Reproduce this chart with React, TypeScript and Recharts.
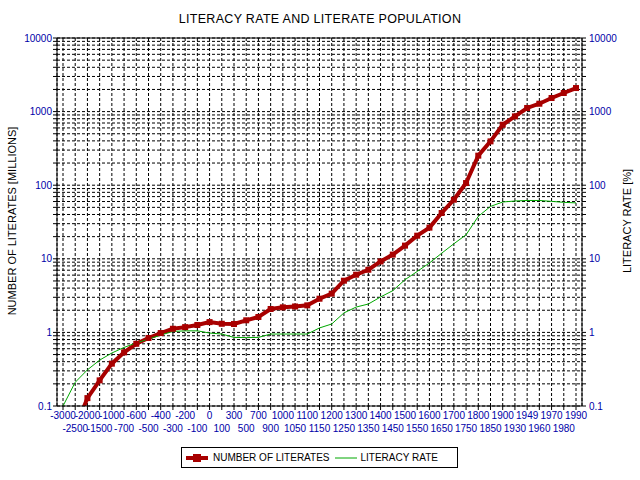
import { LineChart, Line, XAxis, YAxis, CartesianGrid, ReferenceLine } from 'recharts';

// categories (years) as printed on the x axis
const years = [
  '-3000', '-2500', '-2000', '-1500', '-1000', '-700', '-600', '-500', '-400', '-300', '-200', '-100',
  '0', '100', '300', '500', '700', '900', '1000', '1050', '1100', '1150', '1200', '1250', '1300',
  '1350', '1400', '1450', '1500', '1550', '1600', '1650', '1700', '1750', '1800', '1850', '1900',
  '1930', '1949', '1960', '1970', '1980', '1990',
];

// number of literates, millions
const literates = [
  null, 0.05, 0.128, 0.223, 0.376, 0.535, 0.7, 0.84, 0.98, 1.12, 1.18, 1.26,
  1.38, 1.31, 1.3, 1.46, 1.62, 2.08, 2.19, 2.25, 2.33, 2.87, 3.36, 5.04, 6.08,
  7.1, 9.2, 11.4, 15.1, 20.6, 26.5, 41.9, 63.5, 107, 252, 394, 663,
  861, 1120, 1280, 1530, 1790, 2090,
];

// literacy rate, %
const literacyRate = [
  0.1, 0.21, 0.31, 0.42, 0.525, 0.625, 0.72, 0.81, 0.92, 1.03, 1.05, 1.05,
  0.98, 0.95, 0.855, 0.85, 0.855, 0.95, 0.95, 0.95, 0.95, 1.15, 1.3, 1.84, 2.21,
  2.43, 3.03, 3.69, 5.2, 6.73, 8.77, 11.9, 16, 21.2, 37.7, 51.5, 59.1,
  61, 62, 62, 60.3, 58.5, 57.5,
];

// log axis: labelled decades + minor steps
const decades = [0.1, 1, 10, 100, 1000, 10000];
const minorSteps = [1, 2, 3, 4, 5, 6, 7, 8, 9];

const data = years.map((year, i) => ({ year, literates: literates[i], rate: literacyRate[i] }));
const yTicks = decades.slice(0, -1).flatMap((d) => minorSteps.map((s) => d * s)).concat([10000]);

const RED = '#a80000';
const GREEN = '#00a800';
const BLUE = '#0000a8';
const FONT = '"Liberation Sans", Arial, sans-serif';

const fmtY = (v: number) => (decades.includes(v) ? String(v) : '');

// x labels alternate between two rows
function YearTick(props: any) {
  const { x, y, payload } = props;
  const idx = payload.index ?? props.index ?? 0;
  return (
    <text x={x} y={y + (idx % 2 ? 20 : 7)} textAnchor="middle" fill={BLUE} fontSize={10} fontFamily={FONT}>
      {payload.value}
    </text>
  );
}

// square marker for the literates series
function SquareDot(props: any) {
  const { cx, cy, value, index } = props;
  if (cx == null || cy == null || value == null || value < 0.1) return <g key={index} />;
  return <rect key={index} x={cx - 3} y={cy - 3} width={6} height={6} fill={RED} />;
}

export default function App() {
  return (
    <div style={{ position: 'absolute', left: 0, top: 0, width: 640, height: 480, background: '#fff', fontFamily: FONT }}>
      <div style={{ position: 'absolute', top: 12, width: 640, textAlign: 'center', fontSize: 12.5, lineHeight: '15px', color: '#000', letterSpacing: 0.3 }}>
        LITERACY RATE AND LITERATE POPULATION
      </div>
      <LineChart width={640} height={480} data={data} margin={{ top: 38, right: 0, left: 0, bottom: 0 }}>
        <CartesianGrid yAxisId="left" stroke="#000" strokeDasharray="3 2" />
        <XAxis
          dataKey="year"
          interval={0}
          height={74}
          padding={{ left: 6, right: 6 }}
          tick={<YearTick />}
          tickSize={4}
          tickMargin={2}
          stroke="#000"
        />
        <YAxis
          yAxisId="left"
          type="number"
          scale="log"
          domain={[0.1, 10000]}
          allowDataOverflow
          ticks={yTicks}
          interval={0}
          tickFormatter={fmtY}
          width={57}
          tickSize={4}
          tickMargin={1}
          stroke="#000"
          tick={{ fill: BLUE, fontSize: 10, fontFamily: FONT }}
          label={() => (
            <text x={16} y={221} transform="rotate(-90 16 221)" textAnchor="middle" fontSize={11} fontFamily={FONT} fill="#000">
              NUMBER OF LITERATES [MILLIONS]
            </text>
          )}
        />
        <YAxis
          yAxisId="right"
          orientation="right"
          type="number"
          scale="log"
          domain={[0.1, 10000]}
          allowDataOverflow
          ticks={yTicks}
          interval={0}
          tickFormatter={fmtY}
          width={58}
          tickSize={4}
          tickMargin={3}
          stroke="#000"
          tick={{ fill: BLUE, fontSize: 10, fontFamily: FONT }}
          label={() => (
            <text x={631} y={221} transform="rotate(-90 631 221)" textAnchor="middle" fontSize={11} fontFamily={FONT} fill="#000">
              LITERACY RATE [%]
            </text>
          )}
        />
        <ReferenceLine yAxisId="left" y={10000} stroke="#000" strokeWidth={1} />
        <Line
          yAxisId="left"
          dataKey="literates"
          stroke={RED}
          strokeWidth={4}
          dot={SquareDot}
          activeDot={false}
          isAnimationActive={false}
        />
        <Line
          yAxisId="right"
          dataKey="rate"
          stroke={GREEN}
          strokeWidth={1}
          dot={false}
          activeDot={false}
          isAnimationActive={false}
        />
      </LineChart>
      <div
        style={{
          position: 'absolute', left: 181, top: 447, width: 275, height: 19, border: '1px solid #000',
          display: 'flex', alignItems: 'center', fontSize: 10, color: '#000', whiteSpace: 'nowrap',
        }}
      >
        <svg width={24} height={10} style={{ marginLeft: 4 }}>
          <line x1={0} y1={5} x2={22} y2={5} stroke={RED} strokeWidth={4} />
          <rect x={7} y={1} width={8} height={8} fill={RED} />
        </svg>
        <span style={{ marginLeft: 3 }}>NUMBER OF LITERATES</span>
        <svg width={24} height={10} style={{ marginLeft: 5 }}>
          <line x1={0} y1={5} x2={22} y2={5} stroke={GREEN} strokeWidth={1} />
        </svg>
        <span style={{ marginLeft: 2 }}>LITERACY RATE</span>
      </div>
    </div>
  );
}
